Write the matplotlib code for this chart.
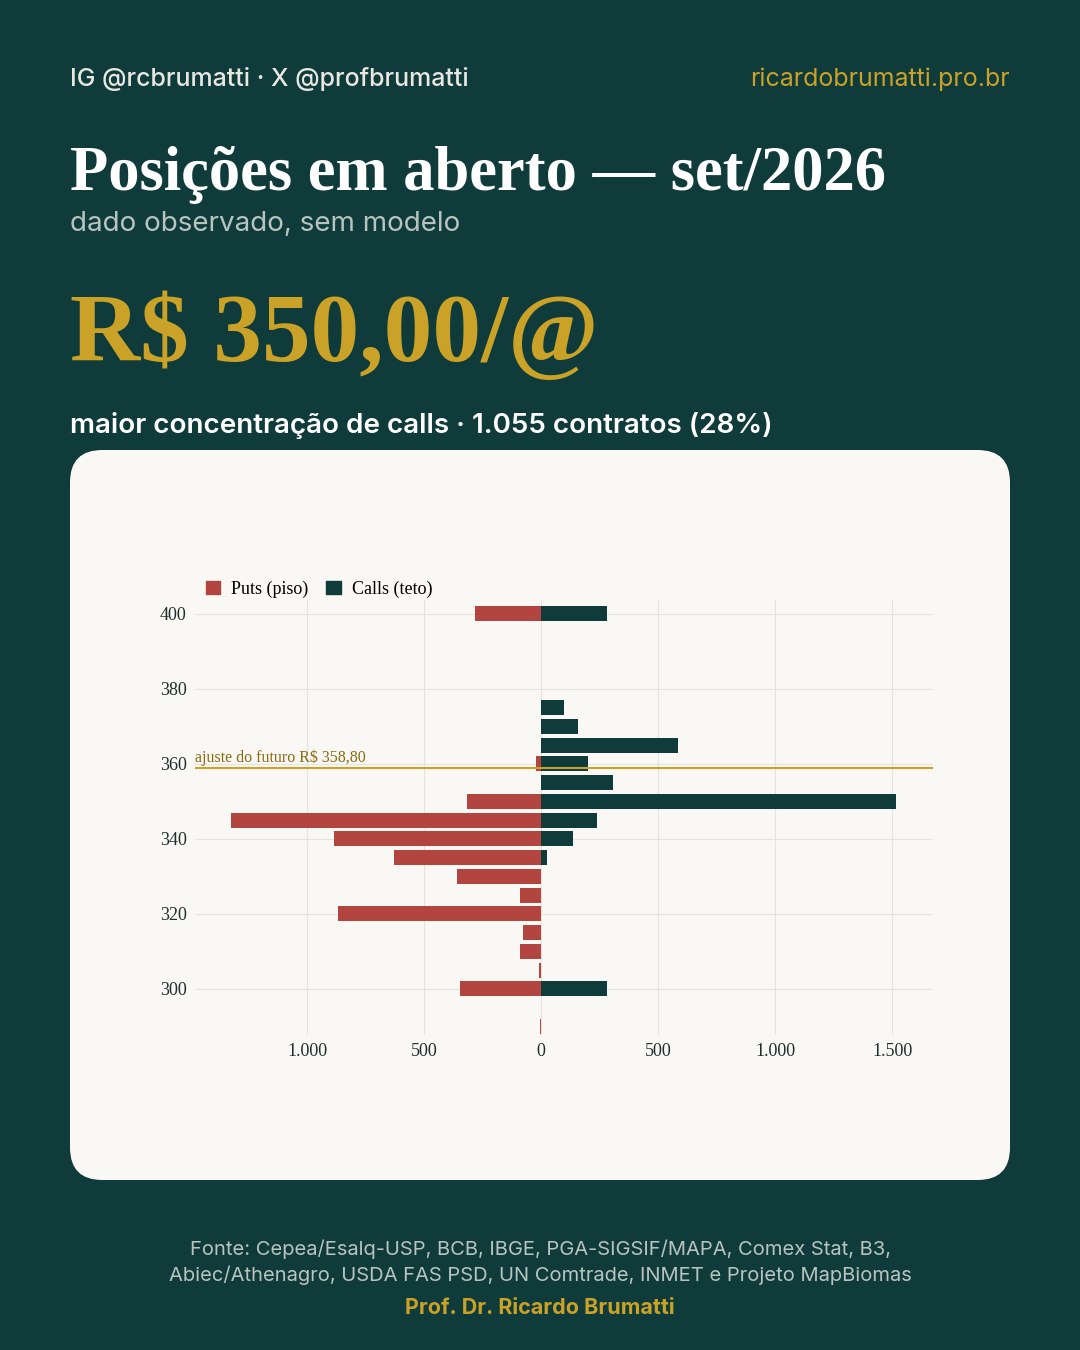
import matplotlib
matplotlib.use("Agg")
import matplotlib.pyplot as plt
from matplotlib.patches import FancyBboxPatch, Patch

BG = "#0f3b3b"
CARD = "#faf8f4"
GOLD = "#c9a227"
RED = "#b34540"
TEAL = "#0f3b3b"

strikes = [400, 375, 370, 365, 360, 355, 350, 345, 340, 335, 330, 325, 320, 315, 310, 305, 300, 290]
puts = [282, 0, 0, 0, 21, 0, 316, 1325, 885, 628, 359, 90, 868, 77, 90, 9, 346, 4]
calls = [282, 98, 158, 585, 200, 308, 1517, 239, 137, 26, 0, 0, 0, 0, 0, 0, 282, 0]
futuro = 358.8
xticks = [-1000, -500, 0, 500, 1000, 1500]
xticklabels = ["1.000", "500", "0", "500", "1.000", "1.500"]

W, H = 1080, 1350
fig = plt.figure(figsize=(10.8, 13.5), dpi=100, facecolor=BG)

def fx(x): return x / W
def fy(y): return 1 - y / H

sans = ["Inter", "DejaVu Sans"]
serif = ["Liberation Serif", "DejaVu Serif"]

fig.text(fx(70), fy(79), "IG @rcbrumatti · X @profbrumatti", color="#e8e8e0", fontsize=18,
         family=sans, fontweight="medium", va="center")
fig.text(fx(1010), fy(79), "ricardobrumatti.pro.br", color=GOLD, fontsize=18, family=sans,
         ha="right", va="center")
fig.text(fx(70), fy(175), "Posições em aberto — set/2026", color="white", fontsize=45,
         family=serif, fontweight="bold", va="center")
fig.text(fx(70), fy(224), "dado observado, sem modelo", color="#b8c4c0", fontsize=20,
         family=sans, va="center")
fig.text(fx(70), fy(337), "R$ 350,00/@", color=GOLD, fontsize=70, family=serif,
         fontweight="bold", va="center")
fig.text(fx(70), fy(425), "maior concentração de calls · 1.055 contratos (28%)", color="white",
         fontsize=20, family=sans, fontweight="semibold", va="center")

card = FancyBboxPatch((fx(70), fy(1180)), fx(940), 730 / H,
                      boxstyle="round,pad=0,rounding_size=0.03", transform=fig.transFigure,
                      facecolor=CARD, edgecolor="none", mutation_aspect=W / H, zorder=-5)
fig.patches.append(card)

ax = fig.add_axes([fx(195), fy(1035), fx(933 - 195), (1035 - 600) / H], zorder=2)
ax.set_facecolor(CARD)
ax.barh(strikes, [-p for p in puts], height=4, color=RED)
ax.barh(strikes, calls, height=4, color=TEAL)
ax.axhline(futuro, color=GOLD, lw=1.5)
ax.text(-1479, futuro + 0.6, "ajuste do futuro R$ 358,80", color="#8a6a10", fontsize=11.5,
        family=serif, va="bottom", ha="left")
ax.set_xlim(-1479, 1675)
ax.set_ylim(287.7, 403.7)
ax.set_yticks([300, 320, 340, 360, 380, 400])
ax.set_xticks(xticks)
ax.set_xticklabels(xticklabels)
ax.grid(True, color="#e6e3dc", lw=0.8)
ax.set_axisbelow(True)
for s in ax.spines.values():
    s.set_visible(False)
ax.tick_params(length=0, labelsize=13, colors="#1e2e2e", pad=6)
for lab in ax.get_xticklabels() + ax.get_yticklabels():
    lab.set_family(serif)
ax.legend(handles=[Patch(color=RED, label="Puts (piso)"), Patch(color=TEAL, label="Calls (teto)")],
          loc="lower left", bbox_to_anchor=(0.0, 0.98), ncol=2, frameon=False,
          prop={"family": serif, "size": 13}, handlelength=0.8, handleheight=0.8,
          columnspacing=1.0, handletextpad=0.6, borderaxespad=0.2)

fig.text(0.5, fy(1249), "Fonte: Cepea/Esalq-USP, BCB, IBGE, PGA-SIGSIF/MAPA, Comex Stat, B3,",
         color="#b8c4c0", fontsize=14.5, family=sans, ha="center", va="center")
fig.text(0.5, fy(1275), "Abiec/Athenagro, USDA FAS PSD, UN Comtrade, INMET e Projeto MapBiomas",
         color="#b8c4c0", fontsize=14.5, family=sans, ha="center", va="center")
fig.text(0.5, fy(1308), "Prof. Dr. Ricardo Brumatti", color=GOLD, fontsize=15.5, family=sans,
         fontweight="bold", ha="center", va="center")

fig.savefig("out.png", dpi=100, facecolor=BG)
